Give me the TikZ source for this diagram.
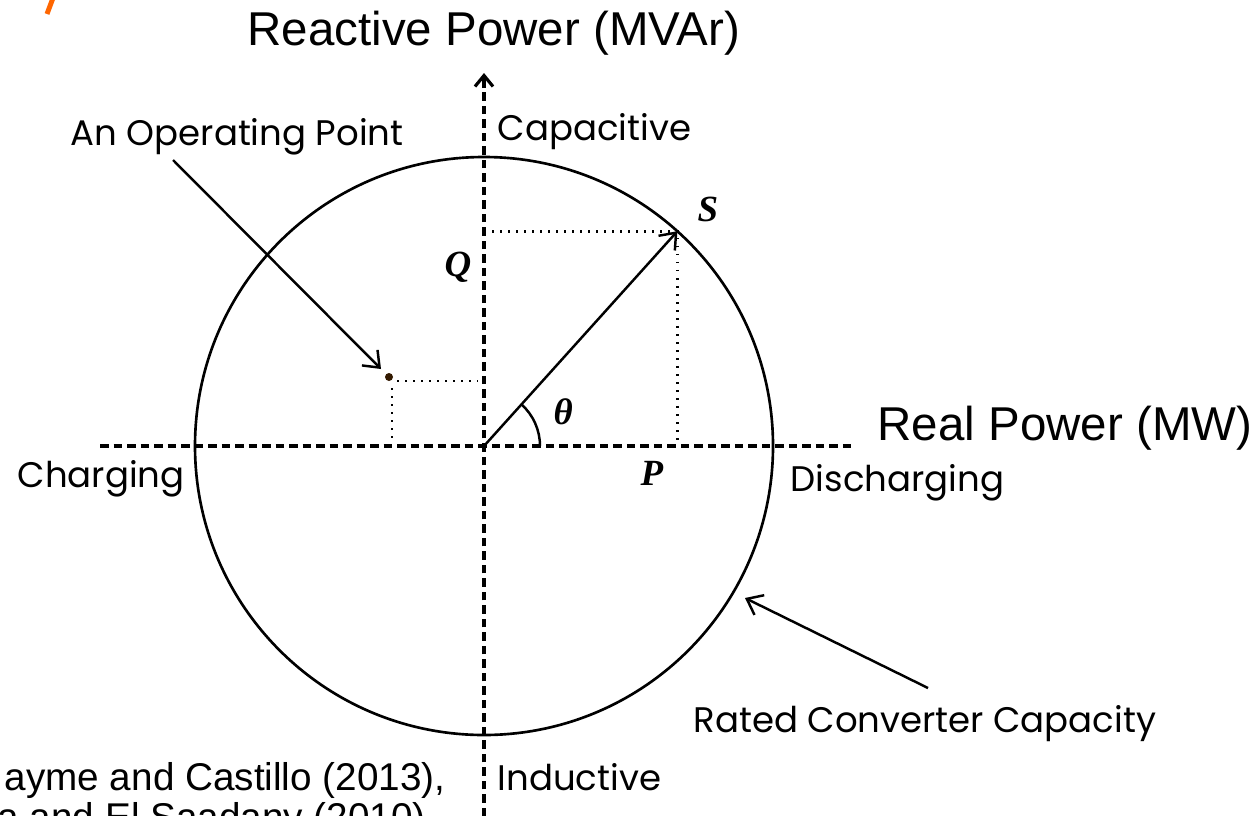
\documentclass[tikz,border=0pt]{standalone}
\usepackage{fontspec}
\setmainfont{Liberation Sans}
\newfontfamily\gothic{Poppins}
\newfontfamily\tms{Liberation Serif}
\usetikzlibrary{arrows.meta,calc}
\definecolor{orng}{RGB}{255,102,0}
\tikzset{
  axisline/.style={line width=0.95pt, dash pattern=on 0.085cm off 0.05cm},
  dotline/.style={line width=0.75pt, dash pattern=on 0.015cm off 0.065cm},
  ptr/.style={line width=0.7pt, -{Straight Barb[length=0.14cm,width=0.22cm]}},
  glabel/.style={anchor=base west, inner sep=0pt, font=\gothic\fontsize{10.1}{12}\selectfont},
  bigl/.style={anchor=base west, inner sep=0pt, font=\fontsize{13.5}{16}\selectfont},
  refl/.style={anchor=base west, inner sep=0pt, font=\fontsize{11}{13}\selectfont},
  varl/.style={anchor=base west, inner sep=0pt, font=\tms\bfseries\itshape\fontsize{10.5}{12}\selectfont}
}
\begin{document}
\begin{tikzpicture}[x=0.01cm,y=-0.01cm]
\useasboundingbox (0,0) rectangle (1255,815);
\clip (0,0) rectangle (1255,815);
\fill[white] (0,0) rectangle (1255,815);
% fragment of orange text
\draw[orng, line width=1.4pt] (47,14) -- (53,-2);
% axes
\coordinate (O) at (484,446);
\coordinate (ytop) at (484,73);
\coordinate (ybot) at (484,830);
\coordinate (xl) at (100,446);
\coordinate (xr) at (856,446);
\draw[axisline] (xl) -- (xr);
\draw[axisline] (ybot) -- (O) -- ($(ytop)+(0,12)$);
\draw[line width=0.9pt, -{Straight Barb[length=0.11cm,width=0.18cm]}] (484,88) -- (ytop);
% circle
\draw[line width=0.75pt] (O) circle (289);
% S vector
\coordinate (Spt) at ($(O)+(48:289 and -289)$);
\coordinate (Sq) at (O |- Spt);
\coordinate (Sp) at (Spt |- O);
\draw[dotline] (Sq) -- (Spt) -- (Sp);
\draw[ptr] (O) -- (Spt);
% theta arc
\draw[line width=0.7pt] ($(O)+(56,0)$) arc[start angle=0, end angle=-48, x radius=56, y radius=56];
% operating point
\node[circle, fill=black!80!orange, inner sep=0pt, minimum size=0.08cm] (op) at (389,377) {};
\coordinate (opq) at (478,381);
\coordinate (opp) at (392,440);
\draw[dotline] (397,381) -- (opq);
\draw[dotline] (392,388) -- (opp);
% labels
\node[bigl] (ylab) at (247,45) {Reactive Power (MVAr)};
\node[bigl] (xlab) at (877,440) {Real Power (MW)};
\node[glabel] (oplab) at (70,145) {An Operating Point};
\node[glabel] (cap) at (497,140) {Capacitive};
\node[glabel] (ind) at (497,790) {Inductive};
\node[glabel] (chg) at (17,487) {Charging};
\node[glabel] (dis) at (790,491) {Discharging};
\node[glabel] (rcc) at (693,732) {Rated Converter Capacity};
\node[varl] (S) at (697,221) {S};
\node[varl] (Q) at (444,276) {Q};
\node[varl] (th) at (553,424) {\char"03B8};
\node[varl] (P) at (640,485) {P};
\node[refl] (ref1) at (4,790) {ayme and Castillo (2013),};
\node[refl] (ref2) at (-3,830) {a and El Saadany (2010).};
% pointers
\coordinate (opstart) at (173,160);
\draw[ptr] (opstart) -- (381,369);
\coordinate (rccstart) at (928,688);
\coordinate (rcctip) at (745,598);
\draw[ptr] (rccstart) -- (rcctip);
\end{tikzpicture}
\end{document}
